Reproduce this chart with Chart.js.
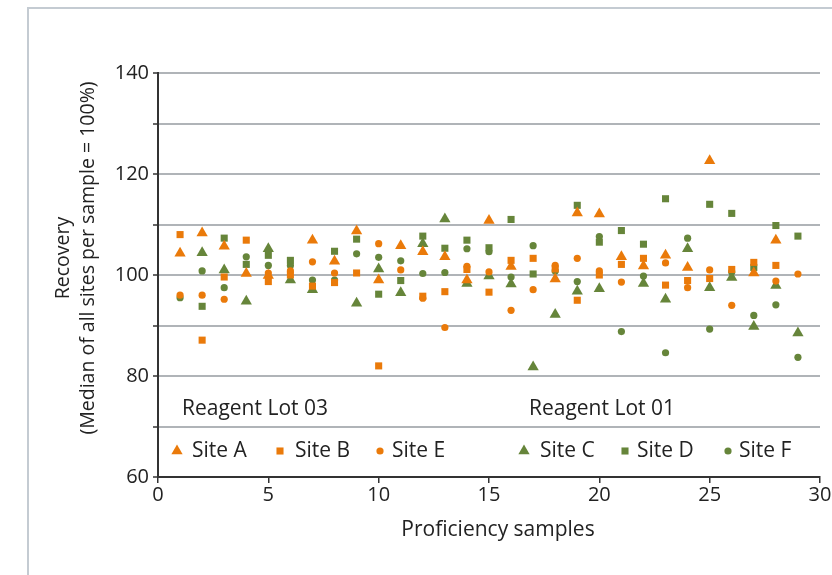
<!DOCTYPE html>
<html>
<head>
<meta charset="utf-8">
<script src="https://cdn.jsdelivr.net/npm/chart.js@4.4.0/dist/chart.umd.min.js"></script>
<style>
  html, body { margin: 0; padding: 0; background: #fff; }
  #wrap { width: 832px; height: 575px; }
</style>
</head>
<body>
<div id="wrap"><canvas id="recovery-chart" width="832" height="575"></canvas></div>
<script>
// proficiency sample numbers (x axis)
const samples = [1, 2, 3, 4, 5, 6, 7, 8, 9, 10, 11, 12, 13, 14, 15, 16, 17, 18, 19, 20, 21, 22, 23, 24, 25, 26, 27, 28, 29];

// recovery in % per site, null = no point in the picture
const siteA = [104.3, 108.3, 105.7, 100.3, 99.9, null, 106.9, 102.7, 108.7, 99.0, 105.8, 104.6, 103.6, 99.0, 110.8, 101.7, null, 99.2, 112.3, 112.1, 103.6, 101.8, 103.9, 101.5, 122.6, null, 100.4, 106.9, null];
const siteB = [108.0, 87.1, 99.6, 106.9, 98.7, 100.0, 97.8, 98.5, 100.4, 82.0, null, 95.8, 96.7, 101.1, 96.6, 102.9, 103.3, 101.2, 95.0, 100.0, 102.1, 103.3, 98.0, 98.9, 99.3, 101.1, 102.5, 101.9, null];
const siteE = [96.0, 96.0, 95.2, null, 100.4, 100.8, 102.6, 100.4, null, 106.2, 101.0, 95.4, 89.6, 101.7, 100.6, 93.0, 97.1, 101.9, 103.3, 100.8, 98.6, null, 102.4, 97.5, 101.0, 94.0, null, 98.8, 100.2];
const siteC = [null, 104.4, 101.0, 94.8, 105.2, 99.0, 97.1, null, 94.4, 101.2, 96.5, 106.2, 111.1, 98.3, 99.8, 98.2, 81.8, 92.2, 96.8, 97.3, null, 98.3, 95.2, 105.2, 97.5, 99.5, 89.8, 97.9, 88.5];
const siteD = [null, 93.8, 107.3, 102.1, 103.9, 102.9, null, 104.7, 107.1, 96.2, 98.9, 107.7, 105.3, 106.9, 105.4, 111.0, 100.2, null, 113.8, 106.5, 108.8, 106.1, 115.1, null, 114.0, 112.2, 101.5, 109.8, 107.7];
const siteF = [95.5, 100.8, 97.5, 103.6, 101.9, 101.9, 99.0, 99.0, 104.2, 103.5, 102.8, 100.3, 100.5, 105.2, 104.6, 99.6, 105.8, 100.8, 98.7, 107.6, 88.8, 99.8, 84.6, 107.3, 89.3, 100.6, 92.0, 94.1, 83.7];

const siteNames = ['Site A', 'Site B', 'Site E', 'Site C', 'Site D', 'Site F'];
const lotLabels = ['Reagent Lot 03', 'Reagent Lot 01'];
const xTitle = 'Proficiency samples';
const yTitle = ['Recovery', '(Median of all sites per sample = 100%)'];

const orange = '#ea7a0a';
const green = '#66853a';
const font = '"Open Sans", "Noto Sans", sans-serif';

const sites = [
    { name: siteNames[0], values: siteA, style: 'triangle', color: orange, radius: 6.5 },
    { name: siteNames[1], values: siteB, style: 'rect', color: orange, radius: 5 },
    { name: siteNames[2], values: siteE, style: 'circle', color: orange, radius: 3.6 },
    { name: siteNames[3], values: siteC, style: 'triangle', color: green, radius: 6.5 },
    { name: siteNames[4], values: siteD, style: 'rect', color: green, radius: 5 },
    { name: siteNames[5], values: siteF, style: 'circle', color: green, radius: 3.6 }
];

function toPoints(values) {
    const pts = [];
    values.forEach((v, i) => {
        if (v !== null) pts.push({ x: samples[i], y: v });
    });
    return pts;
}

function marker(ctx, style, color, radius, x, y) {
    ctx.fillStyle = color;
    ctx.beginPath();
    if (style === 'triangle') {
        ctx.moveTo(x, y - radius);
        ctx.lineTo(x + radius * Math.sin(2 * Math.PI / 3), y + radius * 0.5);
        ctx.lineTo(x - radius * Math.sin(2 * Math.PI / 3), y + radius * 0.5);
        ctx.closePath();
    } else if (style === 'rect') {
        const s = radius * Math.SQRT1_2;
        ctx.rect(x - s, y - s, 2 * s, 2 * s);
    } else {
        ctx.arc(x, y, radius, 0, Math.PI * 2);
    }
    ctx.fill();
}

// legend layout inside the plot (below the 70 line)
const legendSpots = [
    { marker: 177, text: 192 },
    { marker: 280, text: 295 },
    { marker: 380, text: 392 },
    { marker: 524, text: 540 },
    { marker: 625, text: 637 },
    { marker: 728, text: 739 }
];

const frameAndLabels = {
    id: 'frameAndLabels',
    beforeDraw(chart) {
        const ctx = chart.ctx;
        ctx.save();
        ctx.strokeStyle = '#c4cbd2';
        ctx.lineWidth = 2;
        ctx.strokeRect(28, 8, 900, 700);
        ctx.restore();
    },
    afterDraw(chart) {
        const ctx = chart.ctx;
        ctx.save();
        ctx.fillStyle = '#222';
        ctx.textBaseline = 'middle';

        // y title, two lines
        ctx.save();
        ctx.font = '19.5px ' + font;
        ctx.textAlign = 'center';
        ctx.translate(76, 258);
        ctx.rotate(-Math.PI / 2);
        ctx.fillText(yTitle[0], 0, -12.5);
        ctx.fillText(yTitle[1], 0, 12.5);
        ctx.restore();

        // x title (sits a little right of the plot centre)
        ctx.font = '21px ' + font;
        ctx.textAlign = 'center';
        ctx.fillText(xTitle, 498, 530);

        // lot labels
        ctx.textAlign = 'left';
        ctx.fillText(lotLabels[0], 182, 409);
        ctx.fillText(lotLabels[1], 529, 409);

        // legend
        sites.forEach((s, i) => {
            const spot = legendSpots[i];
            marker(ctx, s.style, s.color, s.radius, spot.marker, 451);
            ctx.fillStyle = '#222';
            ctx.fillText(s.name, spot.text, 451);
        });
        ctx.restore();
    }
};

const canvas = document.querySelector('#recovery-chart');
new Chart(canvas.getContext('2d'), {
    type: 'scatter',
    data: {
        datasets: sites.map(s => ({
            label: s.name,
            data: toPoints(s.values),
            pointStyle: s.style,
            pointRadius: s.radius,
            pointBackgroundColor: s.color,
            pointBorderWidth: 0,
            backgroundColor: s.color,
            borderColor: s.color
        }))
    },
    options: {
        responsive: false,
        animation: false,
        devicePixelRatio: 1,
        layout: { padding: { left: 0, right: 12, top: 73, bottom: 0 } },
        plugins: { legend: { display: false }, tooltip: { enabled: false } },
        scales: {
            x: {
                type: 'linear',
                min: 0,
                max: 30,
                ticks: { stepSize: 5, color: '#222', font: { family: font, size: 20 }, padding: 0 },
                grid: { drawOnChartArea: false, tickLength: 6, color: '#333', lineWidth: 1.5 },
                border: { color: '#333', width: 2 },
                afterFit(scale) { scale.height = 98; }
            },
            y: {
                min: 60,
                max: 140,
                ticks: {
                    stepSize: 10,
                    color: '#222',
                    font: { family: font, size: 20 },
                    padding: 4,
                    callback: v => (v % 20 === 0 ? v : '')
                },
                grid: { color: '#b0b4b8', lineWidth: 2, tickColor: '#333', tickLength: 5, tickWidth: 1.5 },
                border: { color: '#333', width: 2 },
                afterFit(scale) { scale.width = 158; }
            }
        }
    },
    plugins: [frameAndLabels]
});
</script>
</body>
</html>
